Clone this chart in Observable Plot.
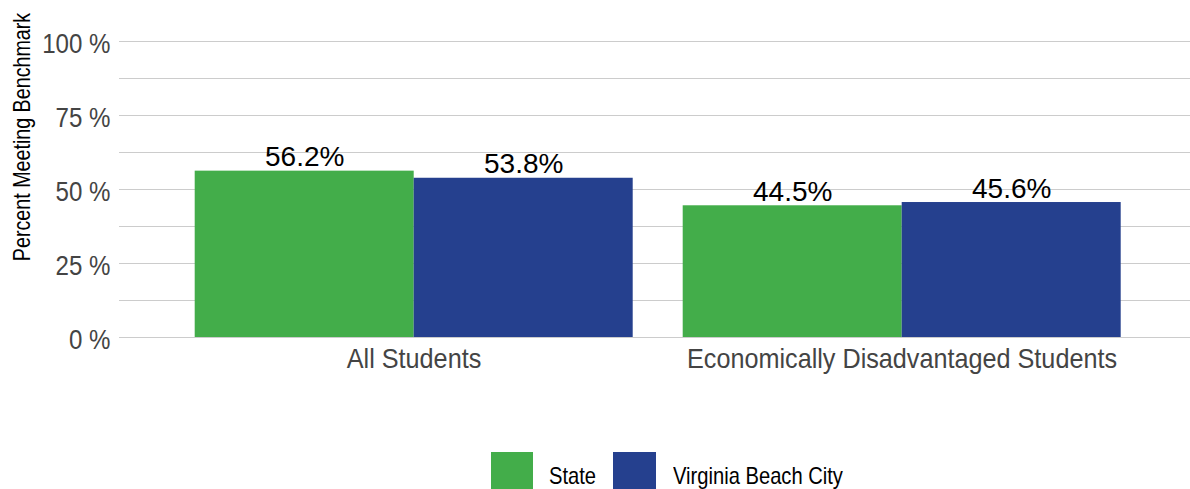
<!DOCTYPE html>
<html>
<head>
<meta charset="utf-8">
<script src="https://cdn.jsdelivr.net/npm/d3@7"></script>
<script src="https://cdn.jsdelivr.net/npm/@observablehq/plot@0.6"></script>
<style>
  html, body { margin: 0; padding: 0; background: #fff; width: 1190px; height: 489px; overflow: hidden; }
  #wrap { position: relative; width: 1190px; height: 489px; font-family: "Liberation Sans", Arial, sans-serif; }
  #bg, #fg { position: absolute; left: 0; top: 0; }
  #ytitle { position: absolute; left: 22px; top: 137px; transform: translate(-50%, -50%) rotate(-90deg) scaleX(0.82); white-space: nowrap; font-size: 24px; line-height: 24px; color: #000; }
  .item { position: absolute; top: 452px; height: 48px; }
  .lab { position: absolute; top: 464px; font-size: 24px; line-height: 24px; color: #000; white-space: nowrap; transform-origin: 0 0; transform: scaleX(0.84); }
</style>
</head>
<body>
<div id="wrap">
  <div id="bg"></div>
  <div id="fg"></div>
  <div id="ytitle">Percent Meeting Benchmark</div>
  <div id="legend"></div>
</div>
<script>
const groups = ["All Students", "Economically Disadvantaged Students"];
const series = ["State", "Virginia Beach City"];
const stateValues = [56.2, 44.5];
const cityValues = [53.8, 45.6];
const seriesColors = ["#43ad4a", "#25408e"];
const yTicks = [0, 25, 50, 75, 100];
const gridTicks = [0, 12.5, 25, 37.5, 50, 62.5, 75, 87.5, 100];

const rows = [];
groups.forEach((g, i) => {
  rows.push({group: g, series: series[0], value: stateValues[i]});
  rows.push({group: g, series: series[1], value: cityValues[i]});
});

const common = {
  width: 1190,
  height: 440,
  marginTop: 41,
  marginBottom: 103,
  y: {domain: [0, 100], axis: null}
};

// background: gridlines + y tick labels spanning full plot width
const bg = Plot.plot({
  ...common,
  marginLeft: 119,
  marginRight: 0,
  style: {fontFamily: '"Liberation Sans", Arial, sans-serif', background: "#fff"},
  marks: [
    Plot.ruleY(gridTicks, {y: d => d, stroke: "#cccccc", strokeWidth: 1}),
    Plot.axisY(yTicks, {tickSize: 0, tickPadding: 9, tickFormat: d => d + " %", fontSize: 28, fill: "#444", dy: 3, label: null})
  ]
});
document.getElementById("bg").appendChild(bg);

// foreground: grouped bars via fx facets
const fg = Plot.plot({
  ...common,
  marginLeft: 193.3,
  marginRight: 68.7,
  style: {fontFamily: '"Liberation Sans", Arial, sans-serif', background: "transparent", overflow: "visible"},
  fx: {domain: groups, paddingInner: 0.101, paddingOuter: 0, label: null},
  x: {domain: series, padding: 0, axis: null},
  color: {domain: series, range: seriesColors},
  marks: [
    Plot.barY(rows, {fx: "group", x: "series", y: "value", fill: "series"}),
    Plot.text(rows, {fx: "group", x: "series", y: "value", text: d => d.value.toFixed(1) + "%", lineAnchor: "bottom", dy: -5, fontSize: 28, fill: "#000"}),
    Plot.axisFx({anchor: "bottom", tickSize: 0, tickPadding: 11, fontSize: 28, fill: "#444", label: null})
  ]
});
document.getElementById("fg").appendChild(fg);

// condense axis texts (narrow font look)
function condense(sel, factor) {
  document.querySelectorAll(sel).forEach(t => {
    const len = t.getComputedTextLength();
    t.setAttribute("textLength", (len * factor).toFixed(2));
    t.setAttribute("lengthAdjust", "spacingAndGlyphs");
  });
}
condense('#bg g[aria-label="y-axis tick label"] text', 0.86);
condense('#fg g[aria-label="fx-axis tick label"] text', 0.9);

// legend
const legend = document.getElementById("legend");
const swLeft = [491, 613];
const labLeft = [549, 673];
series.forEach((s, i) => {
  const sw = document.createElement("div");
  sw.className = "item";
  sw.style.left = swLeft[i] + "px";
  sw.style.width = (i === 0 ? 42 : 43) + "px";
  sw.style.background = seriesColors[i];
  const lab = document.createElement("div");
  lab.className = "lab";
  lab.style.left = labLeft[i] + "px";
  lab.textContent = s;
  legend.appendChild(sw);
  legend.appendChild(lab);
});
</script>
</body>
</html>
